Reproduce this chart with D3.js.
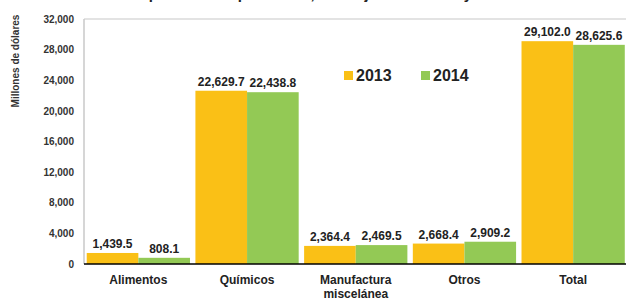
<!DOCTYPE html>
<html><head><meta charset="utf-8">
<script src="https://cdn.jsdelivr.net/npm/d3@7"></script>
<style>body{margin:0;background:#fff}svg{display:block}text{font-family:"Liberation Sans",Arial,sans-serif;font-weight:bold}</style>
</head><body>
<script>
const categories = ["Alimentos","Químicos","Manufactura\nmiscelánea","Otros","Total"];
const series = ["2013","2014"];
const values2013 = [1439.5, 22629.7, 2364.4, 2668.4, 29102.0];
const values2014 = [808.1, 22438.8, 2469.5, 2909.2, 28625.6];
const yTicks = [0,4000,8000,12000,16000,20000,24000,28000,32000];
const colors = ["#FAC016","#93C955"];
const title = "Exportaciones por sector, enero-junio de 2013 y 2014";

(function(){
const W=626,H=298;
const svg=d3.select("body").append("svg").attr("width",W).attr("height",H);
const mL=84, mR=627.5, mT=19, mB=264;
const x=d3.scaleBand().domain(categories).range([mL,mR]).paddingInner(0.05).paddingOuter(0.025);
const xs=d3.scaleBand().domain(series).range([0,x.bandwidth()]);
const y=d3.scaleLinear().domain([0,32000]).range([mB,mT]);
const data=[values2013,values2014];

svg.append("text").attr("x",320).attr("y",-1).attr("text-anchor","middle").attr("font-size",15).attr("fill","#222").text(title);

svg.append("line").attr("x1",mL).attr("x2",W).attr("y1",mT).attr("y2",mT).attr("stroke","#c8c8c8").attr("stroke-width",1.2);
svg.append("line").attr("x1",mL).attr("x2",mL).attr("y1",mT).attr("y2",mB).attr("stroke","#c8c8c8").attr("stroke-width",1.5);

const ya=svg.append("g").attr("transform",`translate(${mL},0)`).call(d3.axisLeft(y).tickValues(yTicks).tickSize(0).tickPadding(10).tickFormat(d3.format(",")));
ya.select(".domain").remove();
ya.selectAll("text").attr("font-size",10).attr("font-family","Liberation Sans, Arial, sans-serif").attr("font-weight","bold").attr("fill","#333");

svg.append("text").attr("transform","translate(19,61) rotate(-90)").attr("text-anchor","middle").attr("font-size",10).attr("fill","#333").text("Millones de dólares");

series.forEach((s,si)=>{
  const g=svg.append("g");
  g.selectAll("rect").data(categories).join("rect")
    .attr("x",c=>x(c)+xs(s)).attr("width",xs.bandwidth())
    .attr("y",(c,i)=>y(data[si][i])).attr("height",(c,i)=>mB-y(data[si][i]))
    .attr("fill",colors[si]);
  g.selectAll("text").data(categories).join("text")
    .attr("x",c=>x(c)+xs(s)+xs.bandwidth()/2).attr("y",(c,i)=>y(data[si][i])-5)
    .attr("text-anchor","middle").attr("font-size",12).attr("fill","#222")
    .text((c,i)=>d3.format(",.1f")(data[si][i]));
});

svg.append("line").attr("x1",mL).attr("x2",W).attr("y1",mB).attr("y2",mB).attr("stroke","#000").attr("stroke-width",1.5);
const xl=svg.append("g").selectAll("text").data(categories).join("text")
  .attr("x",c=>x(c)+x.bandwidth()/2).attr("y",284).attr("text-anchor","middle").attr("font-size",12).attr("fill","#222");
xl.each(function(c){
  const lines=c.split("\n");
  d3.select(this).selectAll("tspan").data(lines).join("tspan")
    .attr("x",x(c)+x.bandwidth()/2).attr("dy",(d,i)=>i?14:0).text(d=>d);
});

const lg=svg.append("g");
const lx=[344,421];
series.forEach((s,i)=>{
  lg.append("rect").attr("x",lx[i]).attr("y",71).attr("width",9).attr("height",9).attr("fill",colors[i]);
  lg.append("text").attr("x",lx[i]+12).attr("y",81).attr("font-size",16).attr("fill","#222").text(s);
});
})();
</script>
</body></html>
